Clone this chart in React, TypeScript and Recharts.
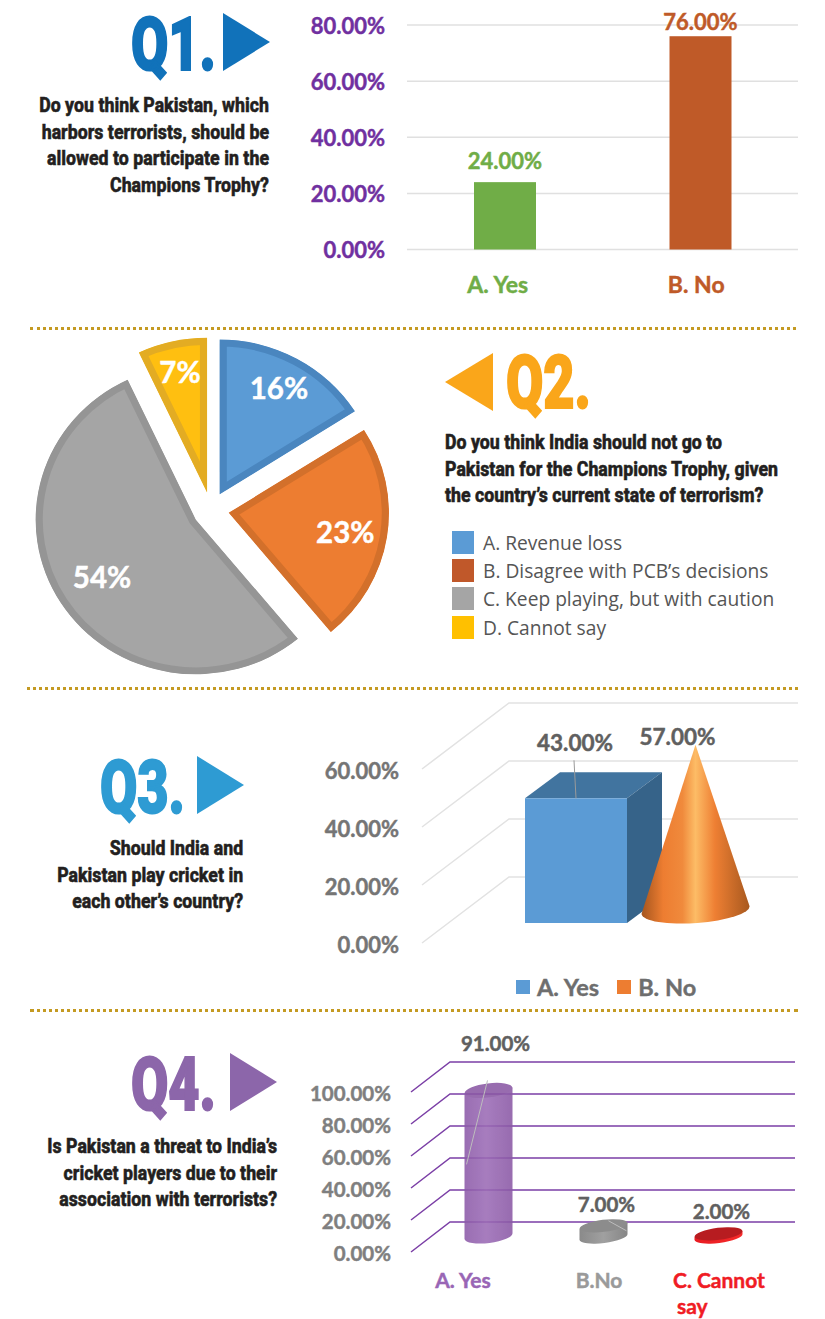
import {
  Bar,
  BarChart,
  CartesianGrid,
  Legend,
  Pie,
  PieChart,
  Sector,
  XAxis,
  YAxis,
} from "recharts";

// Q1
const q1Categories = ["A. Yes", "B. No"];
const q1Values = [24, 76];
const q1Ticks = [0, 20, 40, 60, 80];
const q1Colors = ["#70AD47", "#BF5A28"];
const q1LabelGap = [13, 6];
const q1TickShift = [-7, -4];

// Q2
const q2Categories = ["A. Revenue loss", "B. Disagree with PCB’s decisions", "C. Keep playing, but with caution", "D. Cannot say"];
const q2Values = [16, 23, 54, 7];
const q2Fills = ["#5B9BD5", "#ED7D31", "#A5A5A5", "#FFBF10"];
const q2Strokes = ["#4A86BF", "#D3702B", "#959595", "#E3AC23"];
const q2LegendColors = ["#5B9BD5", "#C0582A", "#A5A5A5", "#FFC000"];
const q2LabelRadius = [123, 118, 111, 124];
const q2LabelDy = [1, 0, -3, 0];

// Q3
const q3Series = ["A. Yes", "B. No"];
const q3Values = [43, 57];
const q3Ticks = [0, 20, 40, 60];

// Q4
const q4Categories = ["A. Yes", "B.No", "C. Cannot say"];
const q4Values = [91, 7, 2];
const q4Ticks = [0, 20, 40, 60, 80, 100];
const q4LabelColors = ["#9966B5", "#9A9A9A", "#F01C24"];
const q4TopColors = ["#8A58A5", "#8C8C8C", "#B71C20"];
const q4Gradients = ["q4Purple", "q4Gray", "q4Red"];
const q4LabelShift = [-25, -4, 4];

const chartFont = "Lato, sans-serif";
const pct = (v: number) => `${v.toFixed(2)}%`;

const q1Data = q1Categories.map((name, i) => ({ name, value: q1Values[i] }));
const q2Data = q2Categories.map((name, i) => ({ name, value: q2Values[i] }));
const q3Data = [{ name: "Q3", yes: q3Values[0], no: q3Values[1] }];
const q4Data = q4Categories.map((name, i) => ({ name, value: q4Values[i] }));

// slight outline because Lato bold is lighter than the source's face
function boldText(fill: string, fontSize: number) {
  return { fontFamily: chartFont, fontWeight: 700, fontSize, fill, stroke: fill, strokeWidth: 0.45 };
}

function yTick(fill: string, fontSize: number, dy: number) {
  return (props: any) => (
    <text {...boldText(fill, fontSize)} x={props.x} y={props.y + dy} textAnchor="end" dominantBaseline="central">
      {pct(props.payload.value)}
    </text>
  );
}

function Q1Bar(props: any) {
  const { x, y, width, height, index } = props;
  return (
    <g>
      <rect x={x} y={y} width={width} height={height} fill={q1Colors[index]} />
      <text {...boldText(q1Colors[index], 22)} x={x + width / 2} y={y - q1LabelGap[index]} textAnchor="middle">
        {pct(props.payload.value)}
      </text>
    </g>
  );
}

function Q1Tick(props: any) {
  const { x, y, payload, index } = props;
  return (
    <text {...boldText(q1Colors[index], 23)} x={x + q1TickShift[index]} y={y + 43} textAnchor="middle">
      {payload.value}
    </text>
  );
}

const EXPLODE = 18;

function ExplodedSlice(props: any) {
  const { cx, cy, midAngle, startAngle, endAngle, outerRadius, index } = props;
  const rad = (-midAngle * Math.PI) / 180;
  const sx = cx + EXPLODE * Math.cos(rad);
  const sy = cy + EXPLODE * Math.sin(rad);
  const common = { cx: sx, cy: sy, innerRadius: 0, outerRadius, startAngle, endAngle };
  // the source pie is a touch wider than tall
  const squash = `translate(${sx} ${sy}) scale(1.02 0.985) translate(${-sx} ${-sy})`;
  return (
    <g transform={squash}>
      <clipPath id={`slice-${index}`}>
        <Sector {...common} />
      </clipPath>
      <g clipPath={`url(#slice-${index})`}>
        <Sector {...common} fill={q2Fills[index]} stroke={q2Strokes[index]} strokeWidth={14} />
      </g>
    </g>
  );
}

function SliceLabel(props: any) {
  const { cx, cy, midAngle, index, value } = props;
  const rad = (-midAngle * Math.PI) / 180;
  const r = EXPLODE + q2LabelRadius[index];
  return (
    <text
      {...boldText("#fff", 29.5)}
      x={cx + r * Math.cos(rad)}
      y={cy + r * Math.sin(rad) + q2LabelDy[index]}
      textAnchor="middle"
      dominantBaseline="central"
    >
      {value}%
    </text>
  );
}

function Q2Legend() {
  return (
    <div>
      {q2Categories.map((name, i) => (
        <div key={name} style={{ display: "flex", alignItems: "center", height: 28.4 }}>
          <span style={{ width: 22, height: 23, background: q2LegendColors[i], marginRight: 9 }} />
          <span style={{ fontFamily: "'Open Sans', sans-serif", fontSize: 19.2, color: "#555" }}>{name}</span>
        </div>
      ))}
    </div>
  );
}

function Q3Legend(props: any) {
  return (
    <div style={{ display: "flex", alignItems: "center" }}>
      {props.payload.map((item: any) => (
        <div key={item.value} style={{ display: "flex", alignItems: "center", marginRight: 18 }}>
          <span style={{ width: 14, height: 14, background: item.color, marginRight: 7 }} />
          <span style={{ color: "#6E6E6E", fontFamily: chartFont, fontWeight: 700, fontSize: 23.5, WebkitTextStroke: "0.4px #6E6E6E" }}>
            {item.value}
          </span>
        </div>
      ))}
    </div>
  );
}

function depthGrid(dx: number, dy: number, stroke: string, strokeWidth: number) {
  return (p: any) => (
    <path
      key={p.key}
      d={`M${p.x1},${p.y1}L${p.x1 + dx},${p.y1 + dy}L${p.x2},${p.y1 + dy}`}
      fill="none"
      stroke={stroke}
      strokeWidth={strokeWidth}
    />
  );
}

function Q3Box(props: any) {
  const { x, y, width, height } = props;
  const lift = 20;
  const dx = 35;
  const dy = -26;
  const top = y - lift;
  const bottom = y + height - lift;
  const right = x + width;
  return (
    <g>
      <path d={`M${x},${top}L${x + dx},${top + dy}L${right + dx},${top + dy}L${right},${top}Z`} fill="#41749F" />
      <path d={`M${right},${top}L${right + dx},${top + dy}L${right + dx},${bottom + dy}L${right},${bottom}Z`} fill="#366389" />
      <rect x={x} y={top} width={width} height={height} fill="#5B9BD5" />
      <line x1={x + 49} y1={top - 38} x2={x + 51} y2={top} stroke="#9a9a9a" strokeWidth={1} />
      <text {...boldText("#606060", 22.5)} x={x + 50} y={top - 47} textAnchor="middle">
        {pct(props.payload.yes)}
      </text>
    </g>
  );
}

function Q3Cone(props: any) {
  const { x, y, width, height } = props;
  const lift = 33;
  const cx = x + width / 2 - 2.5;
  const rx = 54;
  const apex = y - lift;
  const base = y + height - lift;
  return (
    <g>
      <path
        d={`M${cx},${apex}L${cx + rx},${base - 4}A${rx} 13 -4 0 1 ${cx - rx},${base + 4}Z`}
        fill="url(#q3Cone)"
      />
      <text {...boldText("#606060", 22.5)} x={cx - 18} y={apex} textAnchor="middle">
        {pct(props.payload.no)}
      </text>
    </g>
  );
}

const q4Leaders = [
  [-1, -10, -22, 74],
  [5, -5, 23, 5],
  null,
];
const q4LabelOffset = [
  [7, -39],
  [3, -14],
  [3, -15],
];

function Cylinder(props: any) {
  const { x, y, width, height, index } = props;
  const lift = index === 0 ? 16 : 15;
  const rx = width / 2;
  const ry = index === 0 ? 7 : 6;
  const tilt = 3;
  const cx = x + rx;
  const top = y - lift;
  const bottom = y + height - lift;
  const leader = q4Leaders[index];
  return (
    <g>
      <g opacity={index === 0 ? 0.88 : 1}>
        <path
          d={`M${cx - rx},${top + tilt}L${cx - rx},${bottom + tilt}A${rx} ${ry} -7 0 0 ${cx + rx},${bottom - tilt}L${cx + rx},${top - tilt}Z`}
          fill={`url(#${q4Gradients[index]})`}
        />
        <ellipse cx={cx} cy={top} rx={rx} ry={ry} fill={q4TopColors[index]} transform={`rotate(-7 ${cx} ${top})`} />
      </g>
      {leader && (
        <line
          x1={cx + leader[0]}
          y1={top + leader[1]}
          x2={cx + leader[2]}
          y2={top + leader[3]}
          stroke="#bdbdbd"
          strokeWidth={1}
        />
      )}
      <text
        {...boldText("#606060", 20.5)}
        x={cx + q4LabelOffset[index][0]}
        y={top + q4LabelOffset[index][1]}
        textAnchor="middle"
      >
        {pct(props.payload.value)}
      </text>
    </g>
  );
}

function Q4Tick(props: any) {
  const { x, y, payload, index } = props;
  const label: string = payload.value;
  const style = boldText(q4LabelColors[index], 21);
  if (label === "C. Cannot say") {
    return (
      <text {...style} x={x - 45} y={y + 36}>
        C. Cannot
        <tspan x={x - 41} dy={26}>say</tspan>
      </text>
    );
  }
  return (
    <text {...style} x={x + q4LabelShift[index]} y={y + 36} textAnchor="middle">
      {label}
    </text>
  );
}

function Heading(props: { text: string; color: string; x: number; top: number }) {
  return (
    <div
      style={{
        position: "absolute",
        left: props.x,
        top: props.top,
        fontFamily: "Roboto, sans-serif",
        fontWeight: 900,
        fontSize: 75,
        lineHeight: "76px",
        color: props.color,
        WebkitTextStroke: `2px ${props.color}`,
        transform: "scaleX(0.72)",
        transformOrigin: "left top",
        whiteSpace: "nowrap",
      }}
    >
      {props.text}
    </div>
  );
}

function Arrow(props: { points: string; color: string }) {
  return (
    <svg style={{ position: "absolute", left: 0, top: 0 }} width={825} height={1319}>
      <polygon points={props.points} fill={props.color} />
    </svg>
  );
}

function Question(props: { lines: string[]; edge: number; top: number; align: "left" | "right" }) {
  const { lines, edge, top, align } = props;
  return (
    <div
      style={{
        position: "absolute",
        top,
        ...(align === "right" ? { right: 825 - edge } : { left: edge }),
        textAlign: align,
        fontFamily: "Roboto, sans-serif",
        fontWeight: 800,
        fontSize: 21,
        lineHeight: "26.6px",
        color: "#231F20",
        WebkitTextStroke: "0.5px #231F20",
        whiteSpace: "nowrap",
        transform: "scaleX(0.845)",
        transformOrigin: align === "right" ? "right top" : "left top",
      }}
    >
      {lines.map((l) => (
        <div key={l}>{l}</div>
      ))}
    </div>
  );
}

function Divider(props: { x1: number; x2: number; y: number }) {
  return (
    <div
      style={{
        position: "absolute",
        left: props.x1,
        top: props.y,
        width: props.x2 - props.x1,
        borderTop: "3px dotted #C49A22",
      }}
    />
  );
}

function Panel(props: { top: number; children: any }) {
  return <div style={{ position: "absolute", left: 0, top: props.top }}>{props.children}</div>;
}

export default function App() {
  return (
    <div style={{ position: "absolute", left: 0, top: 0, width: 825, height: 1319, background: "#fff", overflow: "hidden" }}>
      <Panel top={0}>
        <BarChart width={825} height={320} data={q1Data} margin={{ top: 25, right: 27, left: 307, bottom: 40.5 }}>
          <CartesianGrid vertical={false} stroke="#E0E0E0" strokeWidth={1.5} />
          <XAxis dataKey="name" height={30} axisLine={false} tickLine={false} tickSize={0} tickMargin={0} tick={Q1Tick} interval={0} />
          <YAxis
            width={100}
            domain={[0, 80]}
            ticks={q1Ticks}
            axisLine={false}
            tickLine={false}
            tickSize={0}
            tickMargin={22}
            tick={yTick("#7030A0", 22, 0)}
          />
          <Bar dataKey="value" barSize={62} shape={Q1Bar} isAnimationActive={false} />
        </BarChart>
      </Panel>

      <Panel top={330}>
        <PieChart width={825} height={355} margin={{ top: 0, right: 0, left: 0, bottom: 0 }}>
          <Pie
            data={q2Data}
            dataKey="value"
            nameKey="name"
            cx={211}
            cy={180}
            outerRadius={157}
            startAngle={90}
            endAngle={-270}
            stroke="none"
            shape={ExplodedSlice}
            label={SliceLabel}
            labelLine={false}
            isAnimationActive={false}
          />
          <Legend
            layout="horizontal"
            verticalAlign="middle"
            align="center"
            content={Q2Legend}
            wrapperStyle={{ left: 452, top: 198, width: 360, height: 120 }}
          />
        </PieChart>
      </Panel>

      <Panel top={690}>
        <BarChart width={825} height={318} data={q3Data} barSize={102} barGap={20} margin={{ top: 79, right: 27, left: 322, bottom: 65 }}>
          <defs>
            <linearGradient id="q3Cone" x1="0" y1="0" x2="1" y2="0">
              <stop offset="0%" stopColor="#A4551E" />
              <stop offset="20%" stopColor="#ED7D31" />
              <stop offset="38%" stopColor="#F08A3C" />
              <stop offset="50%" stopColor="#FDBC66" />
              <stop offset="68%" stopColor="#EE7F33" />
              <stop offset="100%" stopColor="#A8591F" />
            </linearGradient>
          </defs>
          <CartesianGrid vertical={false} horizontal={depthGrid(87, -66, "#E2E2E2", 1.5)} />
          <XAxis dataKey="name" hide padding={{ left: 54, right: 0 }} />
          <YAxis
            width={100}
            domain={[0, 60]}
            ticks={q3Ticks}
            axisLine={false}
            tickLine={false}
            tickSize={0}
            tickMargin={23}
            tick={yTick("#757575", 22, 1)}
          />
          <Bar dataKey="yes" name={q3Series[0]} fill="#5B9BD5" shape={Q3Box} isAnimationActive={false} />
          <Bar dataKey="no" name={q3Series[1]} fill="#ED7D31" shape={Q3Cone} isAnimationActive={false} />
          <Legend
            layout="horizontal"
            verticalAlign="middle"
            align="center"
            content={Q3Legend}
            wrapperStyle={{ left: 516, top: 283, width: 240, height: 30 }}
          />
        </BarChart>
      </Panel>

      <Panel top={1012}>
        <BarChart width={825} height={307} data={q4Data} margin={{ top: 80, right: 30, left: 311, bottom: 27 }}>
          <defs>
            <linearGradient id="q4Purple" x1="0" y1="0" x2="1" y2="0">
              <stop offset="0%" stopColor="#8C5AA8" />
              <stop offset="45%" stopColor="#9B6BB6" />
              <stop offset="100%" stopColor="#8A58A5" />
            </linearGradient>
            <linearGradient id="q4Gray" x1="0" y1="0" x2="1" y2="0">
              <stop offset="0%" stopColor="#8A8A8A" />
              <stop offset="50%" stopColor="#A0A0A0" />
              <stop offset="100%" stopColor="#868686" />
            </linearGradient>
            <linearGradient id="q4Red" x1="0" y1="0" x2="1" y2="0">
              <stop offset="0%" stopColor="#E81C22" />
              <stop offset="100%" stopColor="#F52A2A" />
            </linearGradient>
          </defs>
          <CartesianGrid vertical={false} horizontal={depthGrid(39, -30, "#7B3FA6", 1.5)} />
          <XAxis
            dataKey="name"
            height={40}
            padding={{ left: 19.5, right: 19.5 }}
            axisLine={false}
            tickLine={false}
            tickSize={0}
            tickMargin={0}
            tick={Q4Tick}
            interval={0}
          />
          <YAxis
            width={100}
            domain={[0, 100]}
            ticks={q4Ticks}
            axisLine={false}
            tickLine={false}
            tickSize={0}
            tickMargin={20}
            tick={yTick("#7F7F7F", 20.5, 1)}
          />
          <Bar dataKey="value" barSize={48} shape={Cylinder} isAnimationActive={false} />
        </BarChart>
      </Panel>

      <Divider x1={30} x2={796} y={327} />
      <Divider x1={27} x2={798} y={687} />
      <Divider x1={30} x2={798} y={1009} />

      <Heading text="Q1." color="#1172BA" x={131} top={6} />
      <Arrow points="223,13 270,42 223,71" color="#1172BA" />
      <Question align="right" edge={269} top={92} lines={["Do you think Pakistan, which", "harbors terrorists, should be", "allowed to participate in the", "Champions Trophy?"]} />

      <Heading text="Q2." color="#FAA61A" x={506} top={344} />
      <Arrow points="445,382 493,353 493,411" color="#FAA61A" />
      <Question align="left" edge={445} top={429} lines={["Do you think India should not go to", "Pakistan for the Champions Trophy, given", "the country’s current state of terrorism?"]} />

      <Heading text="Q3." color="#2E9BD3" x={100} top={749} />
      <Arrow points="197,756 244,785 197,814" color="#2E9BD3" />
      <Question align="right" edge={243} top={835} lines={["Should India and", "Pakistan play cricket in", "each other’s country?"]} />

      <Heading text="Q4." color="#8C66AA" x={131} top={1046} />
      <Arrow points="230,1053 277,1082 230,1111" color="#8C66AA" />
      <Question align="right" edge={277} top={1133} lines={["Is Pakistan a threat to India’s", "cricket players due to their", "association with terrorists?"]} />
    </div>
  );
}
